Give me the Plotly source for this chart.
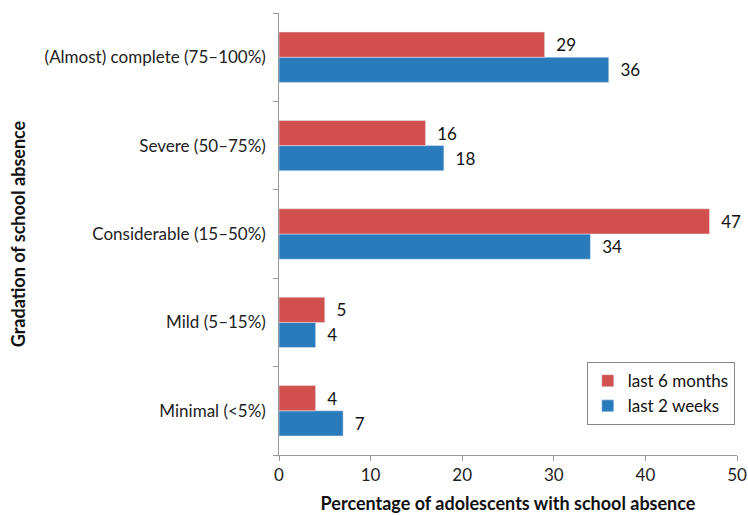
import plotly.graph_objects as go

categories = ["Minimal (<5%)", "Mild (5–15%)", "Considerable (15–50%)",
              "Severe (50–75%)", "(Almost) complete (75–100%)"]
last_6_months = [4, 5, 47, 16, 29]
last_2_weeks = [7, 4, 34, 18, 36]
x_ticks = [0, 10, 20, 30, 40, 50]

RED = "#D14F4D"
BLUE = "#2A7BBC"
FONT = "Lato"
FS = 17

fig = go.Figure()
fig.add_trace(go.Bar(
    y=categories, x=last_2_weeks, orientation="h", name="last 2 weeks",
    marker=dict(color=BLUE), text=last_2_weeks, texttemplate="  %{x}",
    textposition="outside", textfont=dict(size=FS, color="#111111", family=FONT),
    cliponaxis=False,
))
fig.add_trace(go.Bar(
    y=categories, x=last_6_months, orientation="h", name="last 6 months",
    marker=dict(color=RED), text=last_6_months, texttemplate="  %{x}",
    textposition="outside", textfont=dict(size=FS, color="#111111", family=FONT),
    cliponaxis=False,
))

fig.update_layout(
    width=748, height=515,
    margin=dict(l=279, r=11, t=13, b=60, autoexpand=False),
    paper_bgcolor="white", plot_bgcolor="white",
    barmode="group", bargap=0.43, bargroupgap=0,
    font=dict(family=FONT, size=FS, color="#222222"),
    showlegend=True,
    legend=dict(
        x=0.672, y=0.21, xanchor="left", yanchor="top",
        traceorder="reversed", bordercolor="#888888", borderwidth=1,
        bgcolor="white", font=dict(size=FS, color="#111111"),
        itemwidth=30, tracegroupgap=10,
    ),
    xaxis=dict(
        range=[0, 50], tickvals=x_ticks, showgrid=False, zeroline=False,
        showline=True, linecolor="#999999", linewidth=1,
        ticks="outside", ticklen=5, tickcolor="#999999",
        tickfont=dict(size=FS, color="#222222"), automargin=False,
        title=dict(text="<b>Percentage of adolescents with school absence</b>",
                   font=dict(size=18, color="#111111"), standoff=12),
    ),
    yaxis=dict(
        type="category", categoryorder="array", categoryarray=categories,
        showgrid=False, zeroline=False, showline=True, linecolor="#999999",
        linewidth=1, ticks="outside", ticklen=5, tickcolor="#999999",
        tickson="boundaries", ticksuffix="  ", automargin=False,
        tickfont=dict(size=FS, color="#222222"),
        title=dict(text="<b>Gradation of school absence</b>",
                   font=dict(size=18, color="#111111"), standoff=14),
    ),
)

fig.write_html(
    "out.html",
    config={"displayModeBar": False},
    post_script="document.body.style.margin='0';document.body.style.overflow='hidden';",
)
